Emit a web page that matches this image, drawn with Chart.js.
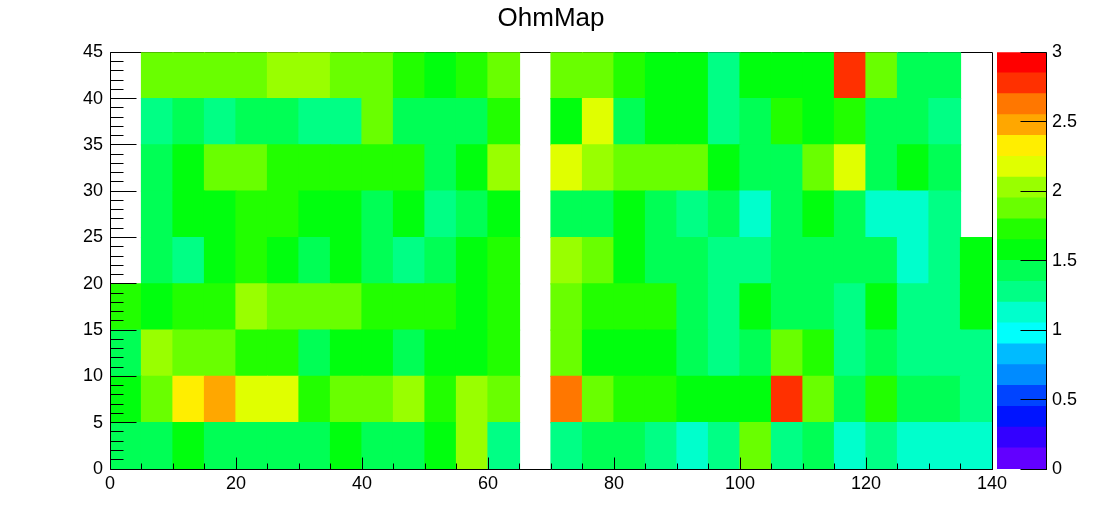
<!DOCTYPE html>
<html>

<head>
	<meta charset="utf-8">
	<script src="https://cdn.jsdelivr.net/npm/chart.js@4.4.0/dist/chart.umd.min.js"></script>
	<style>
		body {
			margin: 0;
			background: #fff;
		}

		#wrap {
			position: relative;
			width: 1102px;
			height: 522px;
		}

		#wrap canvas {
			position: absolute;
			top: 0;
		}

		#mapChart {
			left: 0;
		}

		#zChart {
			left: 992px;
		}
	</style>
	<title>OhmMap</title>
</head>

<body>
	<div id="wrap">
		<canvas id="mapChart" width="1102" height="522"></canvas>
		<canvas id="zChart" width="110" height="522"></canvas>
	</div>

	<script>
		// bin low edges, every bin is 5 wide
		var binW = 5;
		var xLow = [0, 5, 10, 15, 20, 25, 30, 35, 40, 45, 50, 55, 60, 65, 70, 75, 80, 85, 90, 95, 100, 105, 110, 115, 120, 125, 130, 135];
		var yLow = [0, 5, 10, 15, 20, 25, 30, 35, 40];

		// resistance per bin, one array per y row (null = empty bin)
		var ohmY0 = [1.43, 1.43, 1.58, 1.43, 1.43, 1.43, 1.43, 1.58, 1.43, 1.43, 1.58, 2.03, 1.28, null, 1.28, 1.43, 1.43, 1.28, 1.13, 1.28, 1.88, 1.28, 1.43, 1.13, 1.28, 1.13, 1.13, 1.13];
		var ohmY5 = [1.58, 1.88, 2.33, 2.48, 2.18, 2.18, 1.73, 1.88, 1.88, 2.03, 1.73, 2.03, 1.88, null, 2.63, 1.88, 1.73, 1.73, 1.58, 1.58, 1.58, 2.78, 1.88, 1.43, 1.73, 1.43, 1.43, 1.28];
		var ohmY10 = [1.43, 2.03, 1.88, 1.88, 1.73, 1.73, 1.43, 1.58, 1.58, 1.43, 1.58, 1.58, 1.73, null, 1.88, 1.58, 1.58, 1.58, 1.43, 1.28, 1.43, 1.88, 1.73, 1.28, 1.43, 1.28, 1.28, 1.28];
		var ohmY15 = [1.73, 1.58, 1.73, 1.73, 2.03, 1.88, 1.88, 1.88, 1.73, 1.73, 1.73, 1.58, 1.73, null, 1.88, 1.73, 1.73, 1.73, 1.43, 1.28, 1.58, 1.43, 1.43, 1.28, 1.58, 1.28, 1.28, 1.58];
		var ohmY20 = [null, 1.43, 1.28, 1.58, 1.73, 1.58, 1.43, 1.58, 1.43, 1.28, 1.43, 1.58, 1.73, null, 2.03, 1.88, 1.58, 1.43, 1.43, 1.28, 1.28, 1.43, 1.43, 1.43, 1.43, 1.13, 1.28, 1.58];
		var ohmY25 = [null, 1.43, 1.58, 1.58, 1.73, 1.73, 1.58, 1.58, 1.43, 1.58, 1.28, 1.43, 1.58, null, 1.43, 1.43, 1.58, 1.43, 1.28, 1.43, 1.13, 1.43, 1.58, 1.43, 1.13, 1.13, 1.28, null];
		var ohmY30 = [null, 1.43, 1.58, 1.88, 1.88, 1.73, 1.73, 1.73, 1.73, 1.73, 1.43, 1.58, 2.03, null, 2.18, 2.03, 1.88, 1.88, 1.88, 1.58, 1.43, 1.43, 1.88, 2.18, 1.43, 1.58, 1.43, null];
		var ohmY35 = [null, 1.28, 1.43, 1.28, 1.43, 1.43, 1.28, 1.28, 1.88, 1.43, 1.43, 1.43, 1.73, null, 1.58, 2.18, 1.43, 1.58, 1.58, 1.28, 1.43, 1.73, 1.58, 1.73, 1.43, 1.43, 1.28, null];
		var ohmY40 = [null, 1.88, 1.88, 1.88, 1.88, 2.03, 2.03, 1.88, 1.88, 1.73, 1.58, 1.73, 1.88, null, 1.88, 1.88, 1.73, 1.58, 1.58, 1.28, 1.58, 1.58, 1.58, 2.78, 1.88, 1.43, 1.43, null];
		var ohmRows = [ohmY0, ohmY5, ohmY10, ohmY15, ohmY20, ohmY25, ohmY30, ohmY35, ohmY40];

		// axis labels
		var xTicks = [0, 20, 40, 60, 80, 100, 120, 140];
		var yTicks = [0, 5, 10, 15, 20, 25, 30, 35, 40, 45];
		var zTicks = [0, 0.5, 1, 1.5, 2, 2.5, 3];

		// contour levels of the colour scale and the colour for each band
		var zLevels = [0, 0.15, 0.3, 0.45, 0.6, 0.75, 0.9, 1.05, 1.2, 1.35, 1.5, 1.65, 1.8, 1.95, 2.1, 2.25, 2.4, 2.55, 2.7, 2.85, 3];
		var palette = ['#6200ff', '#3300ff', '#0014ff', '#0044ff', '#008bff', '#00bbff', '#00fffc', '#00ffcc', '#00ff85', '#00ff55',
			'#00ff0e', '#22ff00', '#69ff00', '#99ff00', '#e0ff00', '#ffee00', '#ffa700', '#ff7700', '#ff3000', '#ff0000'];

		Chart.defaults.font.family = "'Liberation Sans', Arial, sans-serif";
		Chart.defaults.color = '#000';

		function colorFor(v) {
			for (var k = palette.length - 1; k >= 0; k--) {
				if (v >= zLevels[k]) return palette[k];
			}
			return palette[0];
		}

		function crisp(v) {
			return Math.floor(v) + 0.5;
		}

		function setTicks(list) {
			return function (scale) {
				scale.ticks = list.map(function (v) { return { value: v }; });
			};
		}

		// frame under the cells, axis lines and inside ticks on top of them
		var rootFrame = {
			id: 'rootFrame',
			beforeDatasetsDraw: function (chart) {
				var a = chart.chartArea, ctx = chart.ctx;
				ctx.save();
				ctx.strokeStyle = '#000';
				ctx.lineWidth = 1;
				ctx.beginPath();
				ctx.moveTo(crisp(a.left), crisp(a.top));
				ctx.lineTo(crisp(a.right), crisp(a.top));
				ctx.lineTo(crisp(a.right), crisp(a.bottom));
				ctx.stroke();
				ctx.restore();
			},
			afterDatasetsDraw: function (chart) {
				var a = chart.chartArea, ctx = chart.ctx;
				var xs = chart.scales.x, ys = chart.scales.y;
				var v, p, len;
				ctx.save();
				ctx.strokeStyle = '#000';
				ctx.lineWidth = 1;
				ctx.beginPath();
				ctx.moveTo(crisp(a.left), a.top);
				ctx.lineTo(crisp(a.left), crisp(a.bottom));
				ctx.lineTo(a.right + 1, crisp(a.bottom));
				// x: minor every 5, major every 20
				for (v = xs.min; v <= xs.max; v += 5) {
					p = crisp(xs.getPixelForValue(v));
					len = v % 20 === 0 ? 12 : 6;
					ctx.moveTo(p, crisp(a.bottom));
					ctx.lineTo(p, crisp(a.bottom) - len);
				}
				// y: minor every 1, major every 5
				for (v = ys.min; v <= ys.max; v += 1) {
					p = crisp(ys.getPixelForValue(v));
					len = v % 5 === 0 ? 26 : 13;
					ctx.moveTo(crisp(a.left), p);
					ctx.lineTo(crisp(a.left) + len, p);
				}
				ctx.stroke();
				ctx.restore();
			}
		};

		var zAxisLine = {
			id: 'zAxisLine',
			afterDatasetsDraw: function (chart) {
				var a = chart.chartArea, ctx = chart.ctx, zs = chart.scales.y;
				ctx.save();
				ctx.strokeStyle = '#000';
				ctx.lineWidth = 1;
				ctx.beginPath();
				ctx.moveTo(crisp(a.right), a.top);
				ctx.lineTo(crisp(a.right), a.bottom + 1);
				zTicks.forEach(function (v) {
					var p = crisp(zs.getPixelForValue(v));
					ctx.moveTo(crisp(a.right), p);
					ctx.lineTo(crisp(a.right) - 26, p);
				});
				ctx.stroke();
				ctx.restore();
			}
		};

		// one floating-bar dataset per y row
		var mapSets = ohmRows.map(function (row, j) {
			var pts = [], cols = [];
			row.forEach(function (v, i) {
				if (v === null) return;
				pts.push({ x: xLow[i] + binW / 2, y: [yLow[j], yLow[j] + binW] });
				cols.push(colorFor(v));
			});
			return {
				label: 'y ' + yLow[j],
				data: pts,
				backgroundColor: cols,
				borderWidth: 0,
				inflateAmount: 0.6,
				grouped: false,
				barPercentage: 1,
				categoryPercentage: 1
			};
		});

		new Chart(document.getElementById('mapChart'), {
			type: 'bar',
			data: { datasets: mapSets },
			options: {
				responsive: false,
				animation: false,
				layout: { padding: 0 },
				plugins: {
					legend: { display: false },
					tooltip: { enabled: false },
					title: {
						display: true,
						text: 'OhmMap',
						font: { size: 26, weight: 'normal' },
						padding: { top: 3, bottom: 18.1 }
					}
				},
				scales: {
					x: {
						type: 'linear',
						offset: false,
						min: 0,
						max: 140,
						grid: { display: false, drawTicks: false },
						border: { display: false },
						afterBuildTicks: setTicks(xTicks),
						afterFit: function (s) { s.height = 53; },
						ticks: { font: { size: 18 }, padding: 4, maxRotation: 0, callback: function (v) { return String(v); } }
					},
					y: {
						type: 'linear',
						min: 0,
						max: 45,
						grid: { display: false, drawTicks: false },
						border: { display: false },
						afterBuildTicks: setTicks(yTicks),
						afterFit: function (s) { s.width = 110; },
						ticks: { font: { size: 18 }, padding: 7, callback: function (v) { return String(v); } }
					},
					// empty right axis, keeps room for the colour bar
					yPad: {
						position: 'right',
						grid: { display: false, drawTicks: false },
						border: { display: false },
						ticks: { display: false },
						afterFit: function (s) { s.width = 110; }
					}
				}
			},
			plugins: [rootFrame]
		});

		// colour bar
		var zSets = palette.map(function (c, k) {
			return {
				data: [[zLevels[k], zLevels[k + 1]]],
				backgroundColor: c,
				borderWidth: 0,
				inflateAmount: 0.6,
				grouped: false,
				barPercentage: 1,
				categoryPercentage: 1
			};
		});

		new Chart(document.getElementById('zChart'), {
			type: 'bar',
			data: { labels: [''], datasets: zSets },
			options: {
				responsive: false,
				animation: false,
				layout: { padding: { left: 5, top: 52.3, bottom: 53 } },
				plugins: {
					legend: { display: false },
					tooltip: { enabled: false }
				},
				scales: {
					x: { display: false },
					y: {
						position: 'right',
						min: 0,
						max: 3,
						grid: { display: false, drawTicks: false },
						border: { display: false },
						afterBuildTicks: setTicks(zTicks),
						afterFit: function (s) { s.width = 56; },
						ticks: { font: { size: 18 }, padding: 6, callback: function (v) { return String(v); } }
					}
				}
			},
			plugins: [zAxisLine]
		});
	</script>
</body>

</html>
